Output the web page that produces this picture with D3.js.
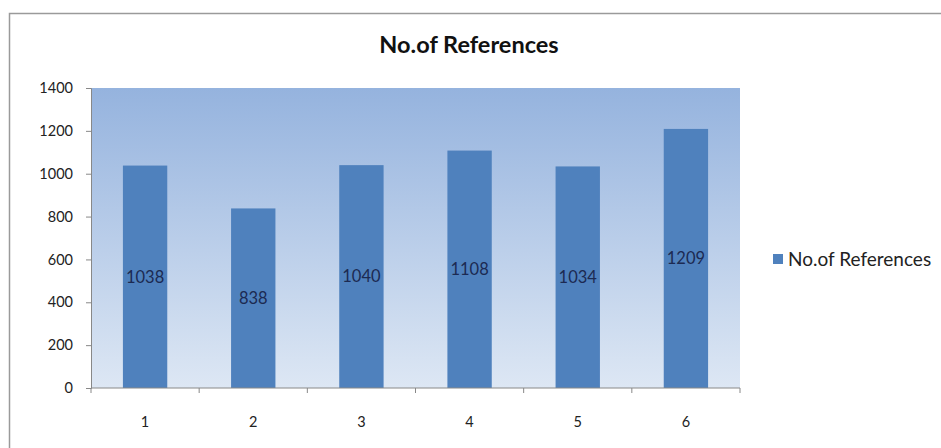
<!DOCTYPE html>
<html><head><meta charset="utf-8">
<script src="https://cdn.jsdelivr.net/npm/d3@7"></script>
<style>body{margin:0;background:#fff;}svg{display:block;}</style>
</head><body>
<script>
const categories = ["1","2","3","4","5","6"];
const values = [1038, 838, 1040, 1108, 1034, 1209];
const yTicks = [0,200,400,600,800,1000,1200,1400];
const seriesName = "No.of References";
const title = "No.of References";

const W = 941, H = 448;
const m = {left:91, right:201, top:88, bottom:60};
const font = "Lato, 'Open Sans', sans-serif";

const svg = d3.select("body").append("svg").attr("width", W).attr("height", H);

// outer border
svg.append("rect").attr("x",9.5).attr("y",13.5).attr("width",W).attr("height",H)
  .attr("fill","#fff").attr("stroke","#9a9a9a").attr("stroke-width",1.5);

const defs = svg.append("defs");
const grad = defs.append("linearGradient").attr("id","bg").attr("x1",0).attr("x2",0).attr("y1",0).attr("y2",1);
grad.append("stop").attr("offset","0%").attr("stop-color","#95b3de");
grad.append("stop").attr("offset","100%").attr("stop-color","#dde7f4");

const x = d3.scaleBand().domain(categories).range([m.left, W-m.right]).paddingInner(0.59).paddingOuter(0.295);
const y = d3.scaleLinear().domain([0,1400]).range([H-m.bottom, m.top]);

svg.append("rect").attr("x",m.left).attr("y",m.top).attr("width",W-m.right-m.left).attr("height",H-m.bottom-m.top)
  .attr("fill","url(#bg)");

svg.selectAll("rect.bar").data(values).join("rect").attr("class","bar")
  .attr("x",(d,i)=>x(categories[i])).attr("width",x.bandwidth())
  .attr("y",d=>y(d)).attr("height",d=>y(0)-y(d)).attr("fill","#4f81bd");

svg.selectAll("text.lbl").data(values).join("text").attr("class","lbl")
  .attr("x",(d,i)=>x(categories[i])+x.bandwidth()/2)
  .attr("y",d=>(y(d)+y(0))/2).attr("dy","0.35em")
  .attr("text-anchor","middle").attr("font-family",font).attr("font-size",16.5)
  .attr("fill","#1c2a52").text(d=>d);

// y axis
const yAxis = svg.append("g").attr("transform",`translate(${m.left},0)`)
  .call(d3.axisLeft(y).tickValues(yTicks).tickFormat(d3.format("d")).tickSize(5).tickPadding(13));
yAxis.select(".domain").attr("stroke","#888");
yAxis.selectAll(".tick line").attr("stroke","#888");
yAxis.selectAll("text").attr("font-family",font).attr("font-size",14.5).attr("fill","#222");

// x axis with boundary ticks
const xAxisG = svg.append("g").attr("transform",`translate(0,${H-m.bottom})`);
xAxisG.append("line").attr("x1",m.left).attr("x2",W-m.right).attr("stroke","#888");
const bounds = d3.range(categories.length+1).map(i=>m.left + i*(W-m.right-m.left)/categories.length);
xAxisG.selectAll("line.tk").data(bounds).join("line").attr("class","tk")
  .attr("x1",d=>d).attr("x2",d=>d).attr("y1",0).attr("y2",5).attr("stroke","#888");
xAxisG.selectAll("text").data(categories).join("text")
  .attr("x",d=>x(d)+x.bandwidth()/2).attr("y",34).attr("dy","0.35em")
  .attr("text-anchor","middle").attr("font-family",font).attr("font-size",14.5).attr("fill","#222").text(d=>d);

// title
svg.append("text").attr("x",469).attr("y",45).attr("dy","0.35em").attr("text-anchor","middle")
  .attr("font-family",font).attr("font-weight","bold").attr("font-size",23.5).attr("fill","#111").text(title);

// legend
svg.append("rect").attr("x",773).attr("y",254).attr("width",10).attr("height",10).attr("fill","#4f81bd");
svg.append("text").attr("x",788).attr("y",259).attr("dy","0.35em").attr("font-family",font)
  .attr("font-size",19).attr("fill","#222").text(seriesName);
</script>
</body></html>
